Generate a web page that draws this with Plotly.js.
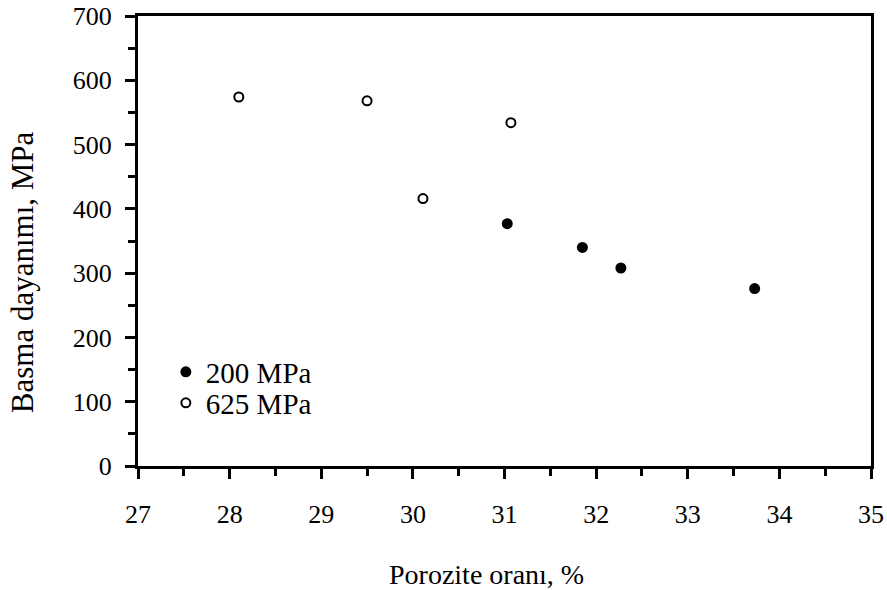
<!DOCTYPE html>
<html>
<head>
<meta charset="utf-8">
<script src="https://cdn.plot.ly/plotly-3.0.1.min.js"></script>
<style>html,body{margin:0;padding:0;background:#fff}#chart{width:887px;height:590px}</style>
</head>
<body>
<div id="chart"></div>
<script>
const x200 = [31.03, 31.85, 32.27, 33.73];
const y200 = [377, 340, 308, 276];
const x625 = [28.10, 29.50, 31.07, 30.11];
const y625 = [574, 568, 534, 416];
const name200 = '200 MPa';
const name625 = '625 MPa';
const xTitle = 'Porozite oranı, %';
const yTitle = 'Basma dayanımı, MPa';

const fam = '"Liberation Serif", "Times New Roman", serif';

const data = [
  {x: x200, y: y200, name: name200, type: 'scatter', mode: 'markers', legend: 'legend',
   marker: {symbol: 'circle', size: 11, color: '#000', line: {width: 0}}},
  {x: x625, y: y625, name: name625, type: 'scatter', mode: 'markers', legend: 'legend2',
   marker: {symbol: 'circle-open', size: 9, color: '#000', line: {width: 2, color: '#000'}}}
];

const layout = {
  width: 887, height: 590,
  margin: {l: 138, r: 16, t: 16, b: 124},
  paper_bgcolor: '#fff', plot_bgcolor: '#fff',
  font: {family: fam, color: '#000', size: 26},
  showlegend: true,
  legend: {x: 0.038, y: 0.209, xanchor: 'left', yanchor: 'middle', bgcolor: 'rgba(0,0,0,0)', font: {family: fam, size: 29, color: '#000'}, itemwidth: 30},
  legend2: {x: 0.038, y: 0.140, xanchor: 'left', yanchor: 'middle', bgcolor: 'rgba(0,0,0,0)', font: {family: fam, size: 29, color: '#000'}, itemwidth: 30},
  xaxis: {
    showgrid: false, zeroline: false, showline: true, linecolor: '#000', linewidth: 3,
    mirror: true, ticks: 'outside', ticklen: 10, tickwidth: 3, tickcolor: '#000',
    tickfont: {family: fam, size: 26, color: '#000'}, ticklabelstandoff: 13,
    range: [27, 35], dtick: 1, tick0: 27,
    minor: {dtick: 0.5, ticks: 'outside', ticklen: 7, tickwidth: 3, tickcolor: '#000', showgrid: false}
  },
  yaxis: {
    showgrid: false, zeroline: false, showline: true, linecolor: '#000', linewidth: 3,
    mirror: true, ticks: 'outside', ticklen: 10, tickwidth: 3, tickcolor: '#000',
    tickfont: {family: fam, size: 26, color: '#000'}, ticklabelstandoff: 8,
    range: [0, 700], dtick: 100, tick0: 0,
    minor: {dtick: 50, ticks: 'outside', ticklen: 7, tickwidth: 3, tickcolor: '#000', showgrid: false}
  },
  annotations: [
    {text: xTitle, xref: 'paper', yref: 'paper', x: 0.475, y: -0.242, xanchor: 'center', yanchor: 'middle',
     showarrow: false, font: {family: fam, size: 28, color: '#000'}},
    {text: yTitle, xref: 'paper', yref: 'paper', x: -0.158, y: 0.431, xanchor: 'center', yanchor: 'middle',
     textangle: -90, showarrow: false, font: {family: fam, size: 31, color: '#000'}}
  ]
};

Plotly.newPlot('chart', data, layout, {displayModeBar: false, staticPlot: true});
</script>
</body>
</html>
